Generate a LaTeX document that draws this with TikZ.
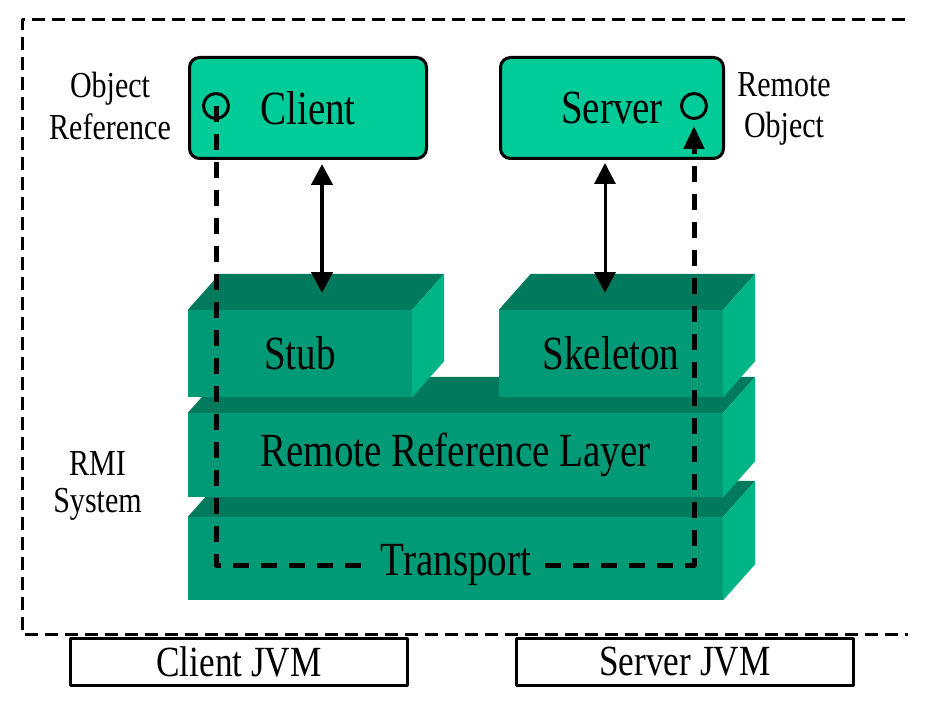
\documentclass[tikz,border=0pt]{standalone}
\usepackage{fontspec}
\setmainfont{Liberation Serif}[FakeStretch=0.82]
\usetikzlibrary{arrows.meta}
\definecolor{boxgreen}{RGB}{0,204,153}
\definecolor{frontgreen}{RGB}{0,155,118}
\definecolor{topgreen}{RGB}{0,122,92}
\definecolor{sidegreen}{RGB}{0,181,133}
\begin{document}
\begin{tikzpicture}[x=1pt, y=-1pt, line join=round, >={Triangle[length=21pt,width=21pt]},
	big/.style={font=\fontsize{47.6}{50}\selectfont},
	small/.style={font=\fontsize{36.6}{41.5}\selectfont, align=center},
	front/.style={fill=frontgreen, inner sep=0pt, big},
	appbox/.style={draw, fill=boxgreen, line width=3pt, rounded corners=10pt, minimum height=101pt, big},
	port/.style={circle, draw, line width=3pt, minimum size=25pt, inner sep=0pt},
	jvmbox/.style={draw, fill=white, line width=3pt, minimum width=337pt, minimum height=47pt, font=\fontsize{43}{45}\selectfont},
	frame/.style={line width=3pt, dash pattern=on 13pt off 7pt},
	ref/.style={line width=5pt, dash pattern=on 16pt off 12pt}]
	\useasboundingbox (0,0) rectangle (927,706);
	\fill[white] (0,0) rectangle (927,706);
	\draw[frame] (905,20) -| (22,634) -- (908,634);
	% layers, lowest first
	\foreach \n/\x/\y/\w/\h/\t in {trans/455.5/558.5/535/83/{}, rrl/455.5/455/535/84/Remote Reference Layer, stub/300/353.5/224/87/Stub, skel/611/353.5/224/87/Skeleton}
	{
		\path (\x,\y) node[front, minimum width=\w pt, minimum height=\h pt] (\n) {\t};
		\fill[topgreen] (\n.north west) -- ++(32,-36) -- ([shift={(32,-36)}]\n.north east) -- (\n.north east) -- cycle;
		\fill[sidegreen] (\n.north east) -- ++(32,-36) -- ([shift={(32,-36)}]\n.south east) -- (\n.south east) -- cycle;
	}
	\path
	(308,108) node[appbox, minimum width=237pt] (client) {Client}
	(612,108) node[appbox, minimum width=223pt] (server) {Server}
	(216,106) node[port] (cref) {}
	(694,106) node[port] (sobj) {}
	(110,106) node[small] (objref) {Object\\Reference}
	(784,109) node[small] (remobj) {Remote\\Object}
	(97.5,486) node[small, font=\fontsize{36.6}{37.5}\selectfont] (rmi) {RMI\\System}
	(456,565) node[big, inner xsep=14pt, inner ysep=0pt] (transport) {Transport}
	(239,662) node[jvmbox] (cjvm) {Client JVM}
	(685,662) node[jvmbox] (sjvm) {Server JVM}
	;
	\coordinate (stubin) at (322,293);
	\coordinate (skelin) at (605,293);
	\draw[<->, line width=4.5pt, shorten <=4pt] (stubin |- client.south) -- (stubin);
	\draw[<->, line width=3pt, shorten <=3pt] (skelin |- server.south) -- (skelin);
	\draw[ref] (cref.center) |- (transport.west);
	\draw[ref, -{Triangle[length=23pt,width=20pt]}, shorten >=6pt] (transport.east) -| (sobj.south);
\end{tikzpicture}
\end{document}
